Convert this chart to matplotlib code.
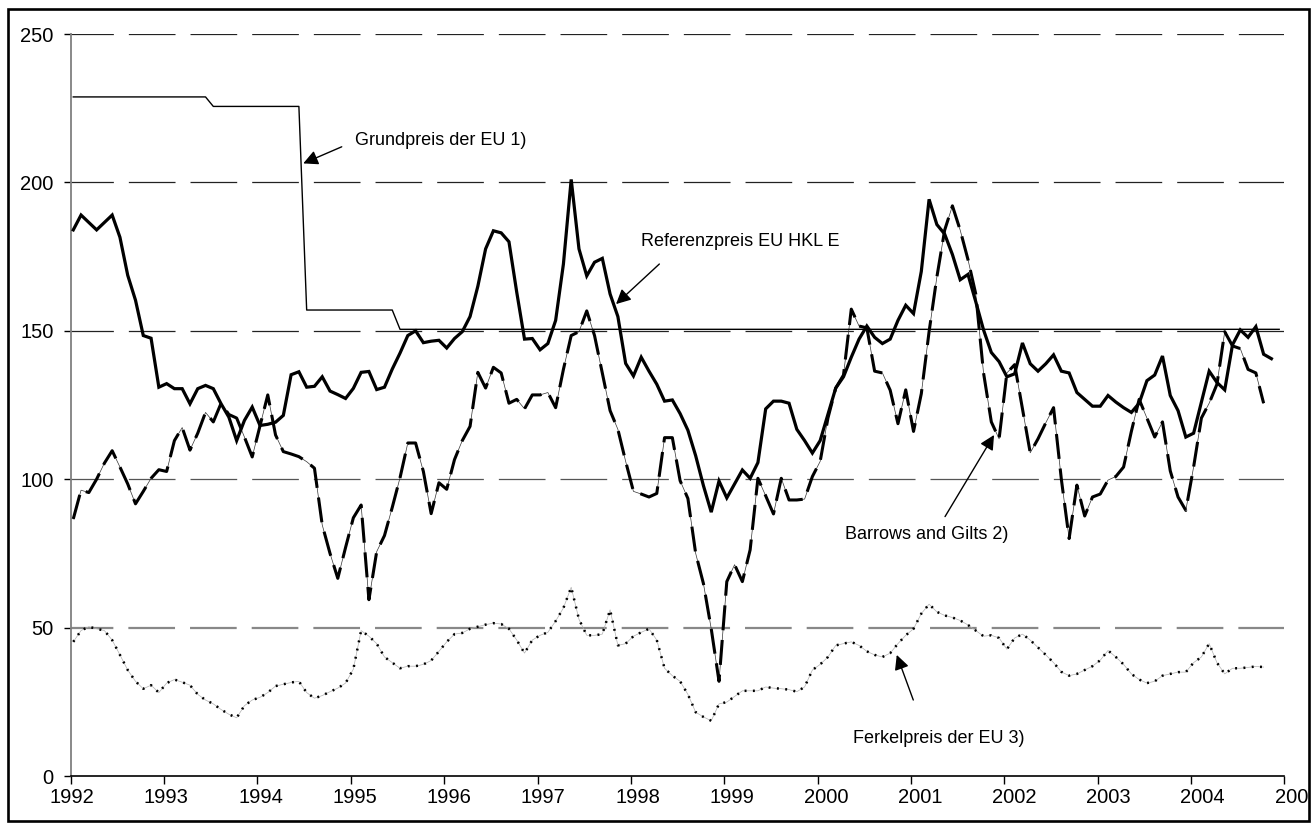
import numpy as np
import matplotlib
matplotlib.use('Agg')
import matplotlib.pyplot as plt
from matplotlib.patches import Rectangle
from matplotlib.transforms import ScaledTranslation

plt.rcParams['font.family'] = ['Liberation Sans', 'DejaVu Sans']
plt.rcParams['lines.scale_dashes'] = False

# ---------------- data (monthly, Jan 1992 onwards) ----------------
years = list(range(1992, 2006))
y_ticks = [0, 50, 100, 150, 200, 250]

referenzpreis = [
    184, 189, 186.5, 184, 186.5, 189, 181.5, 168.7, 160.3, 148.4, 147.5, 131,
    132.2, 130.5, 130.5, 125.4, 130.5, 131.6, 130.5, 125.4, 120.9, 113, 119.8, 124.3,
    118.1, 118.5, 119.2, 121.5, 135.2, 136.2, 131, 131.3, 134.5, 129.7, 128.5, 127.2,
    130.6, 136, 136.3, 130.2, 131, 137.1, 142.5, 148.4, 150, 146, 146.5, 146.8,
    144.2, 147.4, 149.7, 154.8, 165, 177.6, 183.7, 183, 180, 163, 147.2, 147.4,
    143.6, 145.7, 153.5, 172.5, 201, 177.6, 168.5, 173.1, 174.4, 162.4, 154.8, 139,
    134.8, 141.1, 136.4, 132, 126.3, 126.7, 122.1, 116.5, 107.9, 97.8, 88.9, 99.4,
    93.7, 98.4, 103.1, 100.3, 105.6, 123.7, 126.3, 126.3, 125.6, 116.8, 113, 108.8,
    113, 121.8, 130.7, 134.5, 141.1, 147.2, 151.6, 147.8, 145.7, 147.2, 153.5, 158.6,
    155.8, 170, 194.3, 185.8, 182.6, 175.7, 167.2, 169, 159.8, 150.3, 142.7, 139.6,
    134.5, 135.5, 145.9, 138.9, 136.4, 138.9, 141.9, 136.4, 135.8, 129.2, 126.9, 124.6,
    124.6, 128.2, 126, 124.1, 122.5, 125.6, 133.2, 135.1, 141.5, 128.2, 123.1, 114.2,
    115.5, 126, 136.4, 132.6, 130.1, 145.3, 150.3, 147.8, 151.4, 142.1, 140.6,
]

barrows_gilts = [
    86.6, 96.3, 95.5, 100, 105.4, 109.6, 104.1, 98.4, 91.7, 95.9, 100.3, 103.2,
    102.6, 113, 117.4, 109.8, 115.5, 122.5, 119.3, 125.6, 121.8, 120.6, 114.2, 107.5,
    118, 128.4, 114.9, 109.3, 108.5, 107.6, 105.9, 103.7, 84.6, 75, 66.6, 77,
    87, 91.3, 59.4, 75.6, 81, 90.5, 100.5, 112.2, 112.2, 102.6, 88.4, 98.8,
    96.6, 106.6, 113, 117.8, 136, 130.7, 137.7, 135.8, 125.6, 126.9, 123.7, 128.4,
    128.4, 129.2, 124.1, 137, 148.4, 149.7, 156.7, 148.4, 135.8, 123.1, 116.8, 106,
    95.9, 95, 94, 95.2, 114, 114, 99.5, 93.5, 75, 64.8, 49.6, 31.9,
    65.5, 71.2, 65.5, 76.2, 100.3, 94.4, 88.3, 100.3, 93, 93, 93.3, 100.9,
    106, 120.6, 130.7, 135.1, 157.3, 151.6, 151, 136.4, 135.8, 130, 118.7, 130.1,
    116.1, 128.8, 149.7, 168.1, 183.9, 192.1, 183.9, 174, 162.4, 135.8, 119.3, 113.6,
    135.8, 138.6, 123.7, 108.9, 113.6, 119, 124.1, 100, 80, 98, 87.6, 94,
    95, 99.7, 100.9, 104.1, 116.1, 126.9, 120.6, 114.2, 119.3, 102.8, 94, 89.5,
    104.1, 120.6, 125.6, 132, 149.7, 144.9, 144, 137, 135.8, 125.6,
]

ferkelpreis = [
    45.2, 49, 50.3, 49.6, 49, 45.8, 40.8, 35.7, 31.9, 29.4, 30.6, 28.1,
    31.3, 32.5, 31.6, 30.6, 27.5, 25.6, 24.3, 22.4, 20.8, 19.6, 23.7, 25.6,
    26.5, 28.1, 30.3, 30.9, 31.5, 31.9, 28.1, 26.2, 27.1, 28.4, 29.6, 31.3,
    36, 49, 47.1, 44.6, 40.1, 38.2, 36.3, 37, 37, 37.6, 38.9, 42,
    45.2, 47.8, 48.2, 49.6, 50.3, 51, 51.5, 51.2, 49.6, 45.8, 41.4, 45.8,
    47.4, 48.4, 52.2, 56.6, 63.6, 52.8, 47.4, 47.4, 47.8, 56, 44, 44.6,
    47.1, 48.4, 49.6, 45.8, 36.3, 33.8, 31.9, 27.5, 21.5, 19.9, 18.6, 24.3,
    24.9, 26.8, 28.7, 28.7, 28.7, 30, 29.6, 29.4, 29.1, 28.4, 30, 35.7,
    37.6, 40.1, 44, 44.6, 45.2, 44, 42, 40.8, 40.1, 41.4, 44.6, 47.4,
    49.6, 54.7, 57.9, 55.3, 54.1, 53.4, 52.4, 50.9, 49, 47.1, 47.4, 46.5,
    42.7, 46.5, 47.8, 45.8, 43.3, 40.8, 38.2, 35.1, 33.8, 34.4, 35.7, 37,
    39, 42.3, 40.1, 37.6, 34.4, 32.5, 31.3, 31.9, 33.8, 34.4, 35, 35,
    38.2, 40.1, 44.6, 38.2, 34.4, 36.3, 36.3, 36.6, 36.9, 36.7,
]

# Grundpreis: breakpoints (month index, value) of the stepped series
grund_months = [0, 17, 18, 29, 30, 41, 42, 155]
grund_values = [228.8, 228.8, 225.6, 225.6, 157, 157, 150.5, 150.5]

labels = ["Grundpreis der EU 1)", "Referenzpreis EU HKL E",
          "Barrows and Gilts 2)", "Ferkelpreis der EU 3)"]


def month_pos(idx):
    return 1992 + (np.asarray(idx, dtype=float) + 0.33) / 12.0


# ---------------- figure ----------------
W, H = 1316, 824
fig = plt.figure(figsize=(W / 100, H / 100), dpi=100)
ax = fig.add_axes([70.7 / W, 1 - 776 / H, (1284.4 - 70.7) / W, (776 - 34) / H])
ax.set_xlim(1992, 2005)
ax.set_ylim(0, 250)

# gridlines (long dashes)
grid_style = {250: ('#222222', 0.9), 200: ('#222222', 0.9), 150: ('#222222', 0.9),
              100: ('#555555', 0.9), 50: ('#888888', 1.6)}
for yv, (c, lw) in grid_style.items():
    ax.axhline(yv, color=c, lw=lw, linestyle=(3.1, (33.6, 10.8)), zorder=1)

# series
ax.plot(month_pos(grund_months), grund_values, color='black', lw=1.0, zorder=3)

x_f = month_pos(np.arange(len(ferkelpreis)))
ax.plot(x_f, ferkelpreis, color='#b0b0b0', lw=0.5, zorder=2)
ax.plot(x_f, ferkelpreis, color='black', lw=1.8, linestyle=(0, (1.4, 4.6)),
        dash_capstyle='butt', zorder=3)

x_b = month_pos(np.arange(len(barrows_gilts)))
ax.plot(x_b, barrows_gilts, color='#333333', lw=0.5, zorder=2)
ax.plot(x_b, barrows_gilts, color='black', lw=2.2, linestyle=(0, (18, 7)),
        dash_capstyle='butt', zorder=4)

x_r = month_pos(np.arange(len(referenzpreis)))
ax.plot(x_r, referenzpreis, color='black', lw=2.3, zorder=5,
        solid_joinstyle='miter')

# axes styling
for s in ['top', 'right']:
    ax.spines[s].set_visible(False)
ax.spines['left'].set_color('#808080')
ax.spines['left'].set_linewidth(1.3)
ax.spines['bottom'].set_color('black')
ax.spines['bottom'].set_linewidth(1.2)
ax.set_xticks(years)
ax.set_xticklabels([str(y) for y in years])
ax.set_yticks(y_ticks)
ax.set_yticklabels([str(v) for v in y_ticks])
ax.tick_params(axis='y', direction='out', length=5.2, width=1.0, pad=7,
               labelsize=14.5, colors='black')
ax.tick_params(axis='x', direction='out', length=5.5, width=1.0, pad=3,
               labelsize=14.5, colors='black')

# year labels drift slightly right of their ticks in the original
for k, lab in enumerate(ax.get_xticklabels()):
    dx = (1.5 + 0.85 * k) / 100.0
    lab.set_transform(lab.get_transform() + ScaledTranslation(dx, 0, fig.dpi_scale_trans))

# annotations
fs = 13
arrow = dict(arrowstyle='-|>', color='black', lw=1.0, mutation_scale=22,
             shrinkA=0, shrinkB=0)
ax.text(1995.045, 214.0, labels[0], fontsize=fs, va='center', ha='left')
ax.annotate('', xy=(1994.491, 206.4), xytext=(1994.903, 212.0), arrowprops=arrow)

ax.text(1998.105, 180.0, labels[1], fontsize=fs, va='center', ha='left')
ax.annotate('', xy=(1997.841, 159.0), xytext=(1998.305, 172.5), arrowprops=arrow)

ax.text(2000.29, 81.2, labels[2], fontsize=fs, va='center', ha='left')
ax.annotate('', xy=(2001.890, 114.9), xytext=(2001.365, 87.4), arrowprops=arrow)

ax.text(2000.376, 12.8, labels[3], fontsize=fs, va='center', ha='left')
ax.annotate('', xy=(2000.848, 40.8), xytext=(2001.025, 25.6), arrowprops=arrow)

# outer border
border = Rectangle((8 / W, 3 / H), (1309 - 8) / W, (815 - 3) / H,
                   transform=fig.transFigure, fill=False, edgecolor='black',
                   lw=1.9, zorder=10)
fig.add_artist(border)
clip_rect = Rectangle((0, 0), 1309 / W, 1, transform=fig.transFigure,
                      fill=False, visible=False)
fig.add_artist(clip_rect)
for lab in ax.get_xticklabels():
    lab.set_clip_path(clip_rect)
    lab.set_clip_on(True)

fig.savefig('out.png', dpi=100)
